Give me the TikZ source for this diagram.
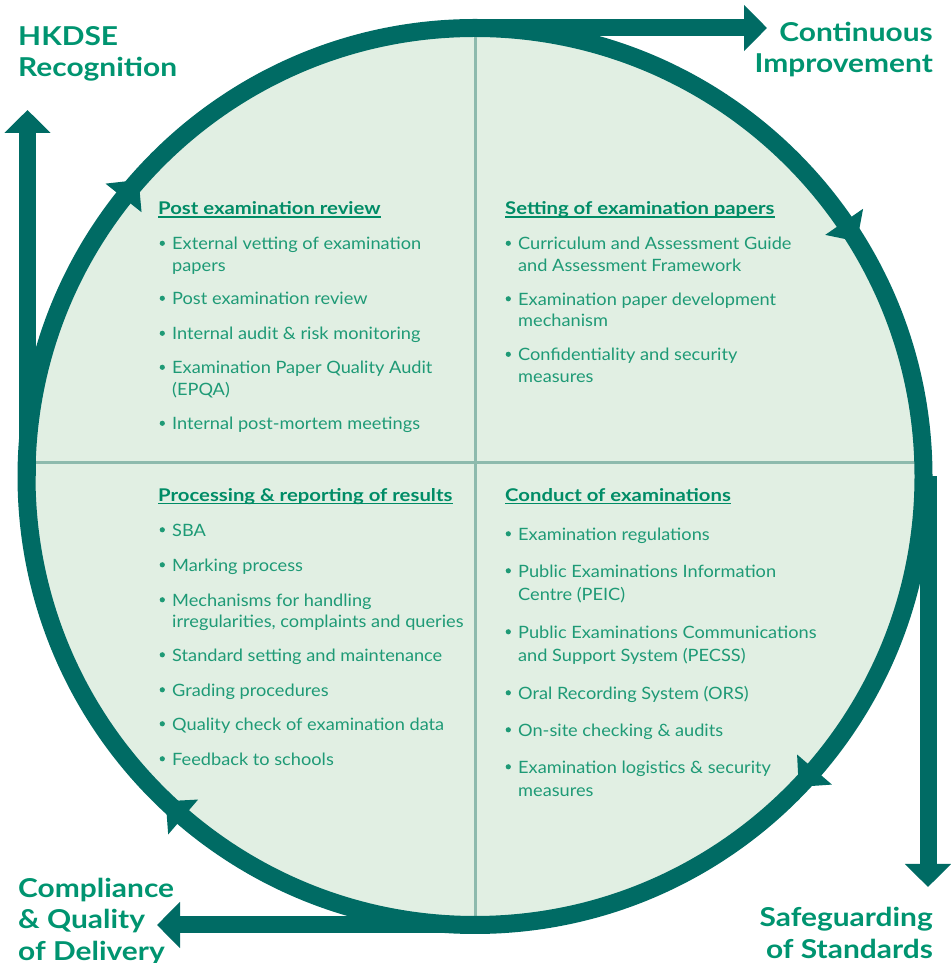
\documentclass[tikz,border=0pt]{standalone}
\usepackage{fontspec}
\setmainfont{Lato}[FakeStretch=1.07]
\newfontfamily\headfont{Lato}[FakeStretch=1.16]
\newfontfamily\titlefont{Lato}[FakeStretch=1.15]
\usetikzlibrary{arrows.meta}
\definecolor{ringteal}{HTML}{006B64}
\definecolor{discfill}{HTML}{E1EFE3}
\definecolor{divline}{HTML}{8DBAAD}
\definecolor{headgreen}{HTML}{008C66}
\definecolor{textgreen}{HTML}{1E9A76}
\definecolor{titlegreen}{HTML}{009470}

\begin{document}
\begin{tikzpicture}[x=1pt,y=1pt,
  txt/.style={inner sep=0pt,anchor=base west,text=textgreen,font=\fontsize{17}{21.5}\selectfont},
  head/.style={inner sep=0pt,anchor=base west,text=headgreen,font=\fontsize{17.5}{21.5}\selectfont\headfont\bfseries},
  title/.style={inner sep=0pt,text=titlegreen,font=\fontsize{26}{31.5}\selectfont\titlefont\bfseries},
  bigarrow/.style={draw=ringteal,line width=17pt,-{Triangle[length=23pt,width=45pt]}}]
  \newcommand\rcx{475}
  \newcommand\rcy{486.5}
  \newcommand\rr{448.5}
  \newcommand\drawitem[4]{\fill[textgreen] (#2-9.7,#3+6.7) circle (2.6);
    \node[txt] (#1) at (#2,#3) {\begin{tabular}[t]{@{}l@{}}#4\end{tabular}};}
  \useasboundingbox (0,0) rectangle (950,963);

% disc and quadrant lines
  \fill[discfill] (\rcx,\rcy) circle (\rr);
  \begin{scope}
    \clip (\rcx,\rcy) circle (\rr);
    \draw[divline,line width=3pt] (\rcx,0) -- (\rcx,963);
    \draw[divline,line width=3pt] (0,500) -- (950,500);
  \end{scope}

% tangent arrows
  \coordinate (ttop) at (475,935);    \coordinate (etop) at (767,935);
  \coordinate (tright) at (928,486.5); \coordinate (eright) at (928,76);
  \coordinate (tbot) at (475,38);     \coordinate (ebot) at (157,38);
  \coordinate (tleft) at (27.5,486.5); \coordinate (eleft) at (27.5,853);
  \draw[bigarrow] (ttop) -- (etop);
  \draw[bigarrow] (tright) -- (eright);
  \draw[bigarrow] (tbot) -- (ebot);
  \draw[bigarrow] (tleft) -- (eleft);

% ring with clockwise heads
  \draw[ringteal,line width=18pt] (\rcx,\rcy) circle (\rr);
  \foreach \a in {141.6,34.6,-40.8,-130.6}{
    \pgfmathsetmacro\ro{\rr+23}
    \pgfmathsetmacro\ri{\rr-23}
    \pgfmathsetmacro\at{\a-3}
    \fill[ringteal,shift={(\rcx,\rcy)}] (\a:\ro) -- (\at:\rr) -- (\a:\ri) -- cycle;
  }

% outcome labels (anchored on last line)
  \node[title,anchor=base west,align=left] (hkdse) at (18,886) {HKDSE\\Recognition};
  \node[title,anchor=base east,align=right] (contimp) at (933,890) {Continuous\\Improvement};
  \node[title,anchor=base west,align=left] (compl) at (18,3) {Compliance\\\& Quality\\of Delivery};
  \node[title,anchor=base east,align=right] (safeg) at (933,5) {Safeguarding\\of Standards};

% post examination review
  \node[head] (q1h) at (158,748) {Post examination review};
  \drawitem{q1a}{172}{713}{External vetting of examination\\papers}
  \drawitem{q1b}{172}{658}{Post examination review}
  \drawitem{q1c}{172}{623}{Internal audit \& risk monitoring}
  \drawitem{q1d}{172}{589}{Examination Paper Quality Audit\\(EPQA)}
  \drawitem{q1e}{172}{533}{Internal post-mortem meetings}

% setting of examination papers
  \node[head] (q2h) at (505,748) {Setting of examination papers};
  \drawitem{q2a}{518}{713}{Curriculum and Assessment Guide\\and Assessment Framework}
  \drawitem{q2b}{518}{657.5}{Examination paper development\\mechanism}
  \drawitem{q2c}{518}{602}{Confidentiality and security\\measures}

% processing & reporting of results
  \node[head] (q3h) at (158,461.5) {Processing \& reporting of results};
  \drawitem{q3a}{172}{426.5}{SBA}
  \drawitem{q3b}{172}{391.5}{Marking process}
  \drawitem{q3c}{172}{356.5}{Mechanisms for handling\\irregularities, complaints and queries}
  \drawitem{q3d}{172}{301.5}{Standard setting and maintenance}
  \drawitem{q3e}{172}{266.5}{Grading procedures}
  \drawitem{q3f}{172}{232.5}{Quality check of examination data}
  \drawitem{q3g}{172}{197.5}{Feedback to schools}

% conduct of examinations
  \node[head] (q4h) at (505,461.5) {Conduct of examinations};
  \drawitem{q4a}{518}{422.5}{Examination regulations}
  \drawitem{q4b}{518}{385.5}{Public Examinations Information\\[2pt]Centre (PEIC)}
  \drawitem{q4c}{518}{324.5}{Public Examinations Communications\\[1.5pt]and Support System (PECSS)}
  \drawitem{q4d}{518}{263.5}{Oral Recording System (ORS)}
  \drawitem{q4e}{518}{226.5}{On-site checking \& audits}
  \drawitem{q4f}{518}{189.5}{Examination logistics \& security\\[2pt]measures}

  \foreach \h in {q1h,q2h,q3h,q4h}
    \draw[headgreen,line width=1.2pt] ([yshift=-2]\h.base west) -- ([yshift=-2]\h.base east);

\end{tikzpicture}
\end{document}
